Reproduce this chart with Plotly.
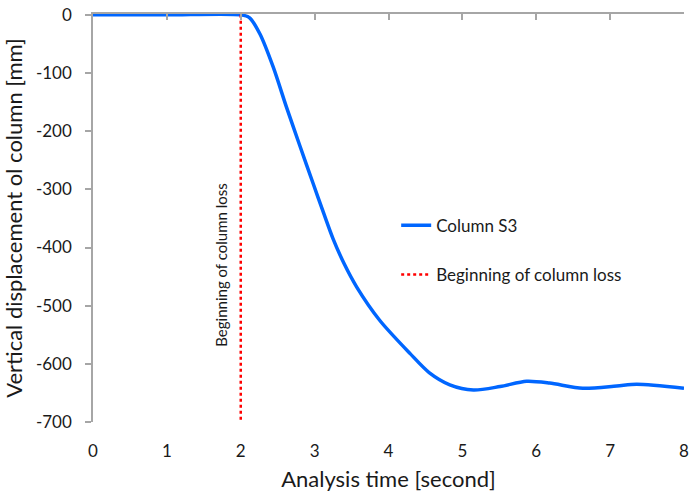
import plotly.graph_objects as go

time_s = [0, 1, 2.0, 2.12, 2.26, 2.44, 2.62, 2.80, 2.98, 3.12, 3.25, 3.40, 3.57, 3.88,
          4.29, 4.55, 4.83, 5.15, 5.51, 5.87, 6.18, 6.63, 7.09, 7.36, 8.0]
disp_mm = [0, 0, 0, -5, -33, -90, -159, -225, -290, -340, -385, -428, -468, -525,
           -582, -615, -636, -645, -639, -630, -633, -642, -638, -635, -642]
loss_t = [2, 2]
loss_y = [0, -700]
x_ticks = [0, 1, 2, 3, 4, 5, 6, 7, 8]
y_ticks = [0, -100, -200, -300, -400, -500, -600, -700]
y_tick_labels = ["0", "-100", "-200", "-300", "-400", "-500", "-600", "-700"]

FONT = "Lato"
TXT = "#1a1a1a"
AX = "#a6a6a6"

fig = go.Figure()
fig.add_trace(go.Scatter(x=time_s, y=disp_mm, mode="lines", name="Column S3",
                         line=dict(color="#0066ff", width=3.5, shape="spline", smoothing=0.8),
                         legendgroup="a"))
fig.add_trace(go.Scatter(x=loss_t, y=loss_y, mode="lines", name="Beginning of column loss",
                         line=dict(color="#ff0000", width=2.5, dash="dot"),
                         legendgroup="b", xaxis="x2"))

fig.add_annotation(x=2, y=-430, xref="x", yref="y", text="Beginning of column loss",
                   textangle=-90, showarrow=False, xshift=-20,
                   font=dict(family=FONT, size=15, color=TXT))

fig.update_layout(
    width=690, height=492,
    margin=dict(l=93, r=6, t=14, b=70),
    paper_bgcolor="white", plot_bgcolor="white",
    font=dict(family=FONT, color=TXT),
    showlegend=True,
    legend=dict(x=0.513, y=0.525, xanchor="left", yanchor="top",
                font=dict(family=FONT, size=17, color=TXT),
                tracegroupgap=24, traceorder="grouped",
                bgcolor="rgba(0,0,0,0)"),
    xaxis=dict(range=[0, 8], tickvals=x_ticks, showline=False, showgrid=False,
               zeroline=False, ticks="outside", ticklen=14, tickcolor="rgba(0,0,0,0)",
               automargin=False, ticklabeloverflow="allow",
               tickfont=dict(family=FONT, size=17, color=TXT),
               title=dict(text="Analysis time [second]", standoff=12,
                          font=dict(family=FONT, size=22, color=TXT))),
    xaxis2=dict(range=[0, 8], overlaying="x", side="top", anchor="y",
                tickvals=x_ticks, showticklabels=False, showline=True, linecolor=AX,
                linewidth=1.5, ticks="inside", ticklen=6, tickcolor=AX, tickwidth=1.5,
                showgrid=False, zeroline=False, automargin=False),
    yaxis=dict(range=[-700, 1.5], tickvals=y_ticks, ticktext=y_tick_labels,
               showline=True, linecolor=AX,
               linewidth=1.5, ticks="outside", ticklen=6, tickcolor=AX, tickwidth=1.5,
               showgrid=False, zeroline=False, ticklabelstandoff=10, automargin=False,
               ticklabeloverflow="allow",
               tickfont=dict(family=FONT, size=17, color=TXT),
               title=dict(text="Vertical displacement ol column [mm]", standoff=8,
                          font=dict(family=FONT, size=22, color=TXT))),
)

# remove the browser's default 8px body margin so the figure fills the window
fig.write_html("out.html", config={"displayModeBar": False},
               post_script="document.body.style.margin='0';document.body.style.overflow='hidden';")
